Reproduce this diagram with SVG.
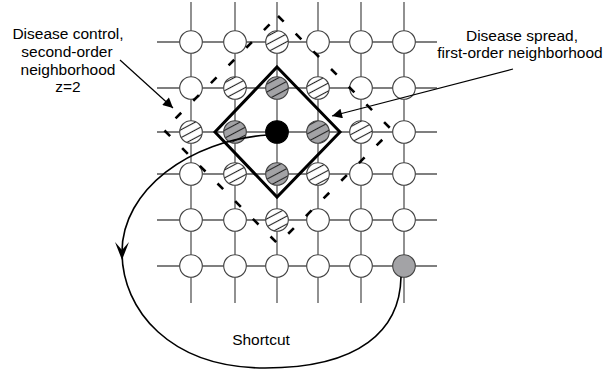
<svg xmlns="http://www.w3.org/2000/svg" width="604" height="375" viewBox="0 0 604 375">
<style>
.grid{stroke:#555;stroke-width:1.3;fill:none}
.n{stroke:#444;stroke-width:1.1}
.w{fill:#fff}
.h{fill:url(#hw)}
.g{fill:url(#hg)}
.gs{fill:#a3a3a6}
.b{fill:#000;stroke:#000}
.t{font-family:"Liberation Sans",Arial,sans-serif;font-size:15.5px;fill:#000;text-anchor:middle}
.lbl{stroke:#000;stroke-width:1.2;fill:none}
</style>
<defs>
<pattern id="hw" patternUnits="userSpaceOnUse" width="7" height="7" patternTransform="rotate(-28)">
<rect width="7" height="7" fill="#fff"/><line x1="0" y1="3.5" x2="7" y2="3.5" stroke="#222" stroke-width="1.1"/>
</pattern>
<pattern id="hg" patternUnits="userSpaceOnUse" width="7" height="7" patternTransform="rotate(-28)">
<rect width="7" height="7" fill="#a3a3a6"/><line x1="0" y1="3.5" x2="7" y2="3.5" stroke="#222" stroke-width="1.1"/>
</pattern>
<marker id="ah" viewBox="0 0 10 10" refX="10" refY="5" markerWidth="14" markerHeight="10" markerUnits="userSpaceOnUse" orient="auto">
<path d="M0,0 L10,5 L0,10 Z" fill="#000"/>
</marker>
</defs>
<g id="grid" class="grid">
<line x1="157" y1="42" x2="437" y2="42"/>
<line x1="157" y1="88" x2="437" y2="88"/>
<line x1="157" y1="132" x2="437" y2="132"/>
<line x1="157" y1="174" x2="437" y2="174"/>
<line x1="157" y1="220" x2="437" y2="220"/>
<line x1="157" y1="266" x2="437" y2="266"/>
<line x1="191" y1="2" x2="191" y2="303"/>
<line x1="235" y1="2" x2="235" y2="303"/>
<line x1="277" y1="2" x2="277" y2="303"/>
<line x1="318" y1="2" x2="318" y2="303"/>
<line x1="361" y1="2" x2="361" y2="303"/>
<line x1="404" y1="2" x2="404" y2="303"/>
</g>
<g id="nodes">
<g id="r0">
<circle class="n w" cx="191" cy="42" r="11.3"/><circle class="n w" cx="235" cy="42" r="11.3"/><circle class="n h" cx="277" cy="42" r="11.3"/><circle class="n w" cx="318" cy="42" r="11.3"/><circle class="n w" cx="361" cy="42" r="11.3"/><circle class="n w" cx="404" cy="42" r="11.3"/>
</g>
<g id="r1">
<circle class="n w" cx="191" cy="88" r="11.3"/><circle class="n h" cx="235" cy="88" r="11.3"/><circle class="n g" cx="277" cy="88" r="11.3"/><circle class="n h" cx="318" cy="88" r="11.3"/><circle class="n w" cx="361" cy="88" r="11.3"/><circle class="n w" cx="404" cy="88" r="11.3"/>
</g>
<g id="r2">
<circle class="n h" cx="191" cy="132" r="11.3"/><circle class="n g" cx="235" cy="132" r="11.3"/><circle id="center" class="n b" cx="277" cy="132" r="11.3"/><circle class="n g" cx="318" cy="132" r="11.3"/><circle class="n h" cx="361" cy="132" r="11.3"/><circle class="n w" cx="404" cy="132" r="11.3"/>
</g>
<g id="r3">
<circle class="n w" cx="191" cy="174" r="11.3"/><circle class="n h" cx="235" cy="174" r="11.3"/><circle class="n g" cx="277" cy="174" r="11.3"/><circle class="n h" cx="318" cy="174" r="11.3"/><circle class="n w" cx="361" cy="174" r="11.3"/><circle class="n w" cx="404" cy="174" r="11.3"/>
</g>
<g id="r4">
<circle class="n w" cx="191" cy="220" r="11.3"/><circle class="n w" cx="235" cy="220" r="11.3"/><circle class="n h" cx="277" cy="220" r="11.3"/><circle class="n w" cx="318" cy="220" r="11.3"/><circle class="n w" cx="361" cy="220" r="11.3"/><circle class="n w" cx="404" cy="220" r="11.3"/>
</g>
<g id="r5">
<circle class="n w" cx="191" cy="266" r="11.3"/><circle class="n w" cx="235" cy="266" r="11.3"/><circle class="n w" cx="277" cy="266" r="11.3"/><circle class="n w" cx="318" cy="266" r="11.3"/><circle class="n w" cx="361" cy="266" r="11.3"/><circle class="n gs" cx="404" cy="266" r="11.3"/>
</g>
</g>
<g id="regions">
<path d="M278,16 L392,130 L278,244 L164,130 Z" fill="none" stroke="#000" stroke-width="2.6" stroke-dasharray="8 17"/>
<path d="M277,67 L340,132 L277,197 L215,132 Z" fill="none" stroke="#000" stroke-width="3" stroke-linejoin="miter"/>
</g>
<g id="connectors">
<path d="M401,277 C400,330 360,368 265,368 C170,368 122,310 122,252 C122,190 190,140 268,135" fill="none" stroke="#000" stroke-width="1.6"/>
<path d="M115,242 L122,260 L129,242 L122,250 Z" fill="#000"/>
<line class="lbl" x1="120" y1="60" x2="173" y2="108" marker-end="url(#ah)"/>
<line class="lbl" x1="513" y1="69" x2="332" y2="116" marker-end="url(#ah)"/>
</g>
<g id="labels">
<text class="t" x="68" y="39">Disease control,</text>
<text class="t" x="67" y="57">second-order</text>
<text class="t" x="68" y="75">neighborhood</text>
<text class="t" x="68" y="92">z=2</text>
<text class="t" x="522" y="41">Disease spread,</text>
<text class="t" x="520" y="58">first-order neighborhood</text>
<text class="t" x="261" y="345">Shortcut</text>
</g>
</svg>
